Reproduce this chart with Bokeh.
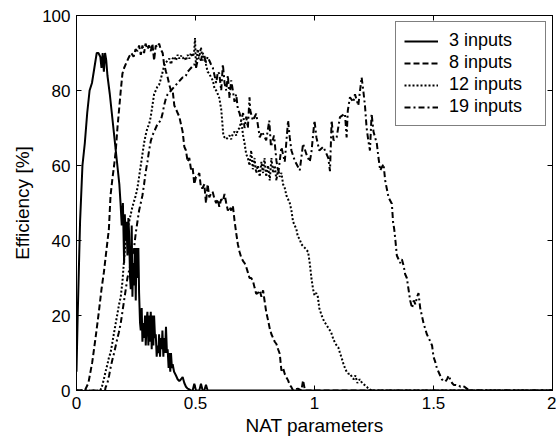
from bokeh.plotting import figure
from bokeh.models import Range1d, FixedTicker, LinearAxis, Legend, LegendItem
from bokeh.embed import file_html
from bokeh.resources import INLINE

# ---------------- data ----------------
series_names = ["3 inputs", "8 inputs", "12 inputs", "19 inputs"]
x_ticks = [0, 0.5, 1, 1.5, 2]
x_tick_labels = ["0", "0.5", "1", "1.5", "2"]
y_ticks = [0, 20, 40, 60, 80, 100]
y_tick_labels = ["0", "20", "40", "60", "80", "100"]

x3 = [0.0, 0.005, 0.015, 0.025, 0.035, 0.045, 0.055, 0.065, 0.075, 0.085, 0.092, 0.1, 0.105, 0.11,
      0.115, 0.12, 0.125, 0.13, 0.14, 0.15, 0.16, 0.17, 0.18, 0.185, 0.19, 0.195, 0.2, 0.203, 0.207,
      0.21, 0.214, 0.218, 0.221, 0.225, 0.228, 0.232, 0.235, 0.238, 0.242, 0.245, 0.249, 0.252,
      0.256, 0.26, 0.263, 0.267, 0.27, 0.274, 0.277, 0.281, 0.284, 0.288, 0.291, 0.295, 0.298,
      0.302, 0.305, 0.309, 0.312, 0.316, 0.319, 0.323, 0.326, 0.33, 0.333, 0.337, 0.34, 0.344,
      0.347, 0.351, 0.354, 0.358, 0.361, 0.365, 0.368, 0.372, 0.376, 0.38, 0.383, 0.387, 0.39,
      0.394, 0.397, 0.401, 0.404, 0.41, 0.418, 0.425, 0.432, 0.439, 0.446, 0.453, 0.46, 0.467,
      0.474, 0.481, 0.488, 0.495, 0.502, 0.509, 0.516, 0.523, 0.53, 0.537, 0.544, 0.551, 0.56,
      1.0, 1.5, 2.0]
y3 = [5, 20, 45, 60, 66, 74, 80, 82, 86, 90, 90, 89, 86, 90,
      85, 90, 88, 84, 79, 73, 67, 61, 55, 50, 44, 50, 34, 47, 40,
      45, 36, 46, 42, 30, 27, 44, 25, 34, 28, 38, 24, 38,
      30, 38, 26, 18, 16, 22, 13, 18, 14, 20, 12, 19, 21,
      12, 20, 13, 21, 11, 20, 12, 20, 14, 15, 9, 12, 10,
      15, 9, 14, 11, 16, 9, 14, 10, 17, 10, 11, 6, 10,
      5, 10, 6, 7, 5, 4, 3, 2.5, 3, 3.6, 2, 1, 0.5,
      0.3, 0, 0, 1.8, 0, 0, 0, 1.8, 0, 0, 1.5, 0, 0,
      0, 0, 0]

x8 = [0.0, 0.035, 0.05, 0.066, 0.08, 0.094, 0.105, 0.115, 0.125, 0.136, 0.143, 0.15, 0.158, 0.165,
      0.172, 0.179, 0.186, 0.193, 0.2, 0.21, 0.221, 0.23, 0.24, 0.248, 0.256, 0.263, 0.27, 0.277,
      0.284, 0.29, 0.298, 0.305, 0.312, 0.319, 0.326, 0.333, 0.34, 0.347, 0.354, 0.362, 0.368,
      0.376, 0.383, 0.39, 0.397, 0.404, 0.411, 0.418, 0.425, 0.432, 0.439, 0.446, 0.453, 0.46,
      0.467, 0.474, 0.481, 0.488, 0.495, 0.502, 0.509, 0.516, 0.523, 0.53, 0.537, 0.544, 0.551,
      0.558, 0.565, 0.572, 0.58, 0.587, 0.594, 0.6, 0.608, 0.615, 0.622, 0.629, 0.636, 0.643,
      0.65, 0.657, 0.664, 0.671, 0.678, 0.685, 0.692, 0.7, 0.706, 0.713, 0.72, 0.727, 0.734,
      0.741, 0.748, 0.755, 0.762, 0.77, 0.777, 0.784, 0.79, 0.797, 0.805, 0.812, 0.819, 0.826,
      0.833, 0.84, 0.847, 0.854, 0.861, 0.868, 0.875, 0.882, 0.889, 0.896, 0.903, 0.91, 0.93,
      0.945, 0.952, 0.96, 1.0, 1.5, 2.0]
y8 = [0, 0, 2, 7.5, 14, 21, 27, 31.5, 37, 43, 52, 56, 60, 64,
      70, 75, 80, 84.5, 86, 87.5, 89, 90, 89, 91, 90.5, 92, 89.5, 92,
      90, 92.5, 91, 92, 90.5, 92.5, 88, 92, 91.5, 92.5, 91, 90, 87,
      85, 83.5, 81.5, 80, 80, 76, 75, 74, 73, 71, 69, 65, 64,
      61, 62, 59, 59.5, 55, 57, 57, 58, 54, 54, 55, 50, 55,
      51.5, 52.5, 53, 51, 50, 51, 49, 51, 50.5, 52.4, 50, 48, 49,
      48, 49.3, 45.3, 42, 39, 37, 35.5, 34.5, 34, 33, 31.5, 30, 30,
      29.3, 27.5, 25.8, 26, 26.7, 25, 26.7, 24, 21, 18.7, 16.5, 15, 14,
      13, 12.4, 11, 9.8, 5.3, 6, 4.4, 3.5, 2.7, 1.5, 0.9, 0, 0.5,
      0, 2.7, 0, 0, 0, 0]

x12 = [0.0, 0.1, 0.108, 0.115, 0.122, 0.13, 0.137, 0.143, 0.15, 0.158, 0.165, 0.172, 0.179, 0.186,
       0.193, 0.2, 0.207, 0.214, 0.221, 0.228, 0.235, 0.242, 0.249, 0.256, 0.263, 0.27, 0.277,
       0.284, 0.29, 0.298, 0.305, 0.312, 0.319, 0.326, 0.333, 0.34, 0.347, 0.354, 0.362, 0.368,
       0.376, 0.383, 0.39, 0.397, 0.404, 0.411, 0.418, 0.425, 0.432, 0.439, 0.446, 0.453, 0.46,
       0.467, 0.474, 0.481, 0.488, 0.494, 0.498, 0.502, 0.509, 0.516, 0.523, 0.53, 0.537, 0.544,
       0.551, 0.558, 0.565, 0.573, 0.58, 0.587, 0.594, 0.6, 0.608, 0.612, 0.617, 0.622, 0.629,
       0.636, 0.643, 0.65, 0.657, 0.664, 0.671, 0.678, 0.685, 0.692, 0.7, 0.706, 0.713, 0.72,
       0.727, 0.734, 0.741, 0.748, 0.755, 0.762, 0.77, 0.777, 0.784, 0.79, 0.797, 0.805, 0.812,
       0.819, 0.826, 0.833, 0.84, 0.847, 0.854, 0.861, 0.868, 0.875, 0.882, 0.889, 0.896, 0.903,
       0.91, 0.917, 0.924, 0.93, 0.937, 0.945, 0.952, 0.96, 0.966, 0.973, 0.98, 0.987, 0.994,
       1.0, 1.007, 1.014, 1.02, 1.03, 1.04, 1.05, 1.06, 1.07, 1.08, 1.093, 1.1, 1.107, 1.115,
       1.122, 1.128, 1.135, 1.142, 1.15, 1.158, 1.165, 1.172, 1.18, 1.19, 1.2, 1.21, 1.22, 1.226,
       1.24, 1.5, 2.0]
y12 = [0, 0, 1.3, 3, 5, 7, 9, 10, 12.5, 15.5, 18, 20.5, 23, 25,
       29, 35, 40.5, 43, 45, 47, 49, 50.5, 52, 54, 57, 60, 63,
       66, 68, 70, 71, 73, 76, 79, 80, 81, 81.5, 83, 85, 86.5,
       87.5, 88, 88.5, 87, 88.5, 89, 88, 89.5, 88.5, 89.3, 88.5, 89, 88,
       89.5, 88.5, 90, 89, 90, 94, 86, 91, 89, 91.5, 88, 89.5, 87,
       85, 84.5, 83.5, 82.7, 80.5, 80, 79, 78, 75, 72, 68, 67.5, 67,
       67.5, 68, 67, 68.5, 69, 68, 69.5, 70, 72, 68, 66, 63, 62,
       60, 64, 59, 62, 58, 60, 57, 61, 58, 62, 57, 60, 56,
       62, 58, 60, 56, 59, 57, 58, 55, 54, 52, 51, 50, 48,
       45, 44, 43, 41, 40.5, 39, 38.5, 38, 37.5, 37, 34, 30, 27,
       25.4, 26, 25, 22, 20, 18.5, 17.5, 16.5, 15.5, 13.5, 12, 11.5, 10, 8.5,
       7, 6, 5, 4.5, 4.5, 3.5, 3, 4, 2, 3, 2, 1.5, 1, 0.5,
       0, 0, 0]

x19 = [0.0, 0.12, 0.122, 0.13, 0.137, 0.143, 0.15, 0.158, 0.165, 0.172, 0.178, 0.186, 0.193, 0.2,
       0.207, 0.214, 0.221, 0.228, 0.235, 0.242, 0.249, 0.256, 0.263, 0.27, 0.277, 0.284, 0.29,
       0.298, 0.305, 0.312, 0.319, 0.326, 0.333, 0.34, 0.354, 0.362, 0.368, 0.376, 0.383, 0.39,
       0.397, 0.404, 0.411, 0.418, 0.425, 0.432, 0.439, 0.446, 0.453, 0.46, 0.467, 0.474, 0.481,
       0.488, 0.495, 0.502, 0.509, 0.516, 0.523, 0.53, 0.537, 0.544, 0.551, 0.558, 0.565, 0.573,
       0.58, 0.587, 0.594, 0.6, 0.608, 0.615, 0.622, 0.629, 0.636, 0.643, 0.65, 0.657, 0.664,
       0.671, 0.678, 0.685, 0.692, 0.7, 0.706, 0.713, 0.72, 0.727, 0.73, 0.741, 0.755, 0.77, 0.78,
       0.797, 0.81, 0.817, 0.83, 0.84, 0.848, 0.861, 0.875, 0.889, 0.896, 0.903, 0.917, 0.938,
       0.952, 0.966, 0.98, 0.987, 1.0, 1.008, 1.02, 1.037, 1.058, 1.065, 1.072, 1.08, 1.093,
       1.107, 1.128, 1.135, 1.14, 1.149, 1.163, 1.17, 1.184, 1.198, 1.205, 1.212, 1.219, 1.226,
       1.233, 1.24, 1.248, 1.262, 1.269, 1.276, 1.29, 1.297, 1.311, 1.325, 1.33, 1.335, 1.34,
       1.346, 1.353, 1.36, 1.367, 1.374, 1.381, 1.388, 1.395, 1.402, 1.41, 1.417, 1.424, 1.431,
       1.437, 1.444, 1.451, 1.458, 1.465, 1.472, 1.48, 1.487, 1.494, 1.5, 1.507, 1.514, 1.521,
       1.528, 1.535, 1.542, 1.55, 1.557, 1.564, 1.57, 1.578, 1.585, 1.592, 1.6, 1.606, 1.613,
       1.62, 1.63, 1.64, 1.65, 2.0]
y19 = [0, 0, 0.8, 2, 4, 6, 8, 10, 12, 14, 15.5, 18, 21, 24,
       27, 30, 32, 34, 36, 38, 42, 45, 48, 50, 52, 55, 58,
       61, 64, 66.5, 68, 69, 70, 71, 72, 74, 76, 78, 79, 79.5,
       80, 80.5, 81, 81.5, 82, 82.5, 83, 83.5, 83.5, 84, 85, 85.5, 86,
       86.5, 87, 86, 88, 89, 88, 90, 89, 87.5, 89, 88, 87, 86,
       84, 82, 85, 84.5, 80, 87, 82, 80, 84, 78, 82.7, 80, 77,
       79, 75, 74, 72, 74, 70, 73, 70, 78.2, 74.7, 72, 73.8, 67.5, 69,
       66.7, 72, 65, 68, 61.3, 58, 64.9, 61, 72, 67.5, 64, 61.3, 58.7,
       65.8, 63, 61, 63.5, 72, 67.5, 64, 65, 62, 58.5, 72, 66.7, 67.5,
       72.9, 73.8, 67.5, 74.7, 78.2, 76.9, 79, 76, 83.5, 80, 76, 70, 66.7,
       64, 73.8, 69, 65.8, 62, 58.7, 60.4, 56, 51.5, 49.8, 45, 43, 40,
       36, 35, 34, 35, 33.4, 31, 30, 27, 24, 22, 24, 23, 25,
       26, 22, 20, 18, 16.5, 15, 14, 13, 12, 9, 7.7, 6, 5,
       4, 3, 2.5, 2.4, 3, 4, 3, 2, 1.5, 1.5, 1.4, 1.4, 1,
       1.2, 1, 0.5, 0, 0]

# ---------------- figure ----------------
FONT = "Liberation Sans"

p = figure(width=556, height=438, output_backend="svg", toolbar_location=None,
           x_range=Range1d(0, 2), y_range=Range1d(0, 100),
           min_border_left=76, min_border_right=4, min_border_top=15, min_border_bottom=48)
p.background_fill_color = "white"
p.border_fill_color = "white"
p.outline_line_color = "black"
p.outline_line_width = 1
p.xgrid.visible = False
p.ygrid.visible = False

xa = p.xaxis[0]
xa.ticker = FixedTicker(ticks=x_ticks)
xa.major_label_overrides = {t: l for t, l in zip(x_ticks, x_tick_labels)}
ya = p.yaxis[0]
ya.ticker = FixedTicker(ticks=y_ticks)
ya.major_label_overrides = {t: l for t, l in zip(y_ticks, y_tick_labels)}

for ax in (xa, ya):
    ax.major_tick_in = 5
    ax.major_tick_out = 0
    ax.minor_tick_in = 0
    ax.minor_tick_out = 0
    ax.axis_line_color = "black"
    ax.major_tick_line_color = "black"
    ax.major_label_text_font = FONT
    ax.major_label_text_font_size = "17px"
    ax.major_label_text_color = "black"
    ax.axis_label_text_font = FONT
    ax.axis_label_text_font_size = "19px"
    ax.axis_label_text_font_style = "normal"
    ax.axis_label_text_color = "black"

xa.axis_label = "NAT parameters"
xa.major_label_standoff = 6
xa.axis_label_standoff = 3
ya.axis_label = "Efficiency [%]"
ya.major_label_standoff = 6
ya.axis_label_standoff = 6

for loc, ticks in (("above", x_ticks), ("right", y_ticks)):
    ax = LinearAxis(ticker=FixedTicker(ticks=ticks), major_label_text_color=None,
                    major_label_text_font_size="1px",
                    major_tick_in=5, major_tick_out=0, minor_tick_in=0, minor_tick_out=0,
                    major_label_standoff=0, axis_line_color="black")
    p.add_layout(ax, loc)

r3 = p.line(x3, y3, line_color="black", line_width=2)
r8 = p.line(x8, y8, line_color="black", line_width=2, line_dash="6 3")
r12 = p.line(x12, y12, line_color="black", line_width=2, line_dash="2 2")
r19 = p.line(x19, y19, line_color="black", line_width=2, line_dash="6 3 2 3")

legend = Legend(items=[LegendItem(label=n, renderers=[r]) for n, r in
                       zip(series_names, [r3, r8, r12, r19])],
                location="top_right")
legend.label_text_font = FONT
legend.label_text_font_size = "18px"
legend.label_text_color = "black"
legend.border_line_color = "black"
legend.border_line_width = 1
legend.background_fill_color = "white"
legend.background_fill_alpha = 1
legend.glyph_width = 34
legend.glyph_height = 20
legend.label_height = 20
legend.label_width = 88
legend.label_standoff = 11
legend.spacing = 1
legend.padding = 8
legend.margin = 6
p.add_layout(legend)

open("out.html", "w").write(file_html(p, INLINE))
